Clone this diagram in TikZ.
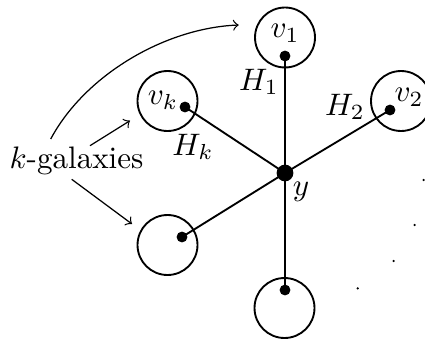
\documentclass[tikz,border=0pt]{standalone}
\begin{document}
\begin{tikzpicture}[x=0.3218pt,y=-0.3218pt,
  galaxy/.style={circle,draw,line width=0.6pt,minimum size=19.3pt,inner sep=0pt},
  bigdot/.style={circle,fill,inner sep=0pt,minimum size=3.5pt},
  hub/.style={circle,fill,inner sep=0pt,minimum size=5.4pt},
  tinydot/.style={circle,fill,inner sep=0pt,minimum size=0.8pt},
  spoke/.style={line width=0.6pt},
  pointer/.style={line width=0.4pt,->}]
\useasboundingbox (0,0) rectangle (425,339);
% galaxies
\node[galaxy] (c1) at (285,37.5) {};
\node[galaxy] (c2) at (401,101) {};
\node[galaxy] (ck) at (167.5,101) {};
\node[galaxy] (cl) at (167.5,245) {};
\node[galaxy] (cb) at (284.5,308) {};
% dots
\node[bigdot] (d1) at (285,56) {};
\node[bigdot] (d2) at (390,110) {};
\node[bigdot] (dk) at (185,107) {};
\node[bigdot] (dl) at (182,237) {};
\node[bigdot] (db) at (285,290) {};
\node[hub] (y) at (285,173) {};
\fill[white] (y.center) circle (0.3pt);
% spokes
\draw[spoke] (y.center) -- (d1.center);
\draw[spoke] (y.center) -- (d2.center);
\draw[spoke] (y.center) -- (dk.center);
\draw[spoke] (y.center) -- (dl.center);
\draw[spoke] (y.center) -- (db.center);
% labels
\node (l1) at (285,33) {$v_1$};
\node (l2) at (409,97) {$v_2$};
\node (lk) at (163,100) {$v_k$};
\node (h1) at (259,82) {$H_1$};
\node (h2) at (345,107) {$H_2$};
\node (hk) at (193,147) {$H_k$};
\node (ly) at (301,192) {$y$};
\node[anchor=base] (kg) at (76.5,168) {$k$-galaxies};
% pointers
\coordinate (a1s) at (50.7,139);
\coordinate (a1e) at (238.7,25);
\coordinate (a2s) at (90,145.7);
\coordinate (a2e) at (130,120.7);
\coordinate (a3s) at (71.7,179.3);
\coordinate (a3e) at (132,224);
\draw[pointer] (a1s) .. controls (85,75) and (165,28) .. (a1e);
\draw[pointer] (a2s) -- (a2e);
\draw[pointer] (a3s) -- (a3e);
% more galaxies
\node[tinydot] (e1) at (423.7,180) {};
\node[tinydot] (e2) at (414.7,225) {};
\node[tinydot] (e3) at (393.7,261) {};
\node[tinydot] (e4) at (357.7,288.3) {};
\end{tikzpicture}
\end{document}
